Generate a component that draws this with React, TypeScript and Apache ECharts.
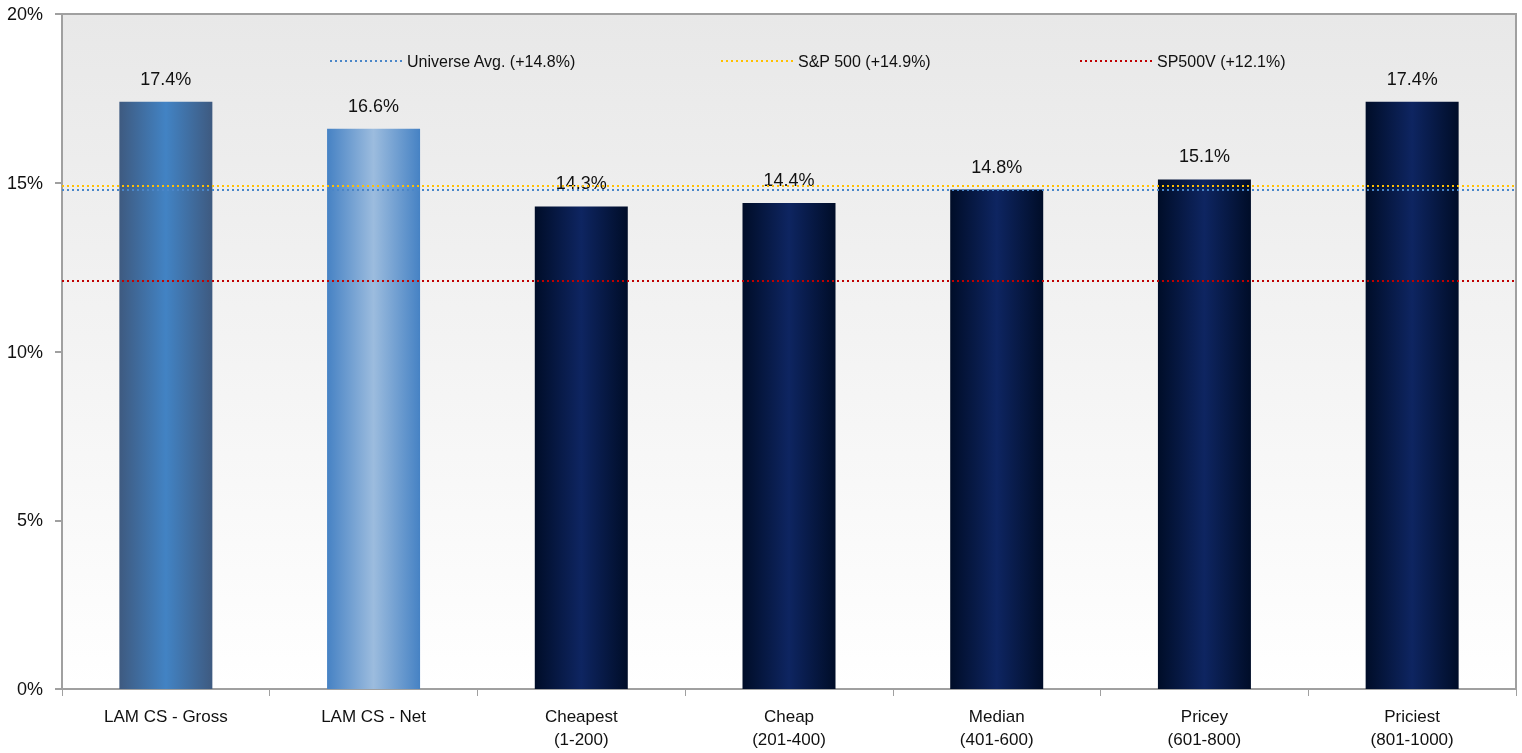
import React, { useEffect, useRef } from "react";
import * as echarts from "echarts";

const categories = [
  "LAM CS - Gross",
  "LAM CS - Net",
  "Cheapest\n(1-200)",
  "Cheap\n(201-400)",
  "Median\n(401-600)",
  "Pricey\n(601-800)",
  "Priciest\n(801-1000)",
];
const values = [17.4, 16.6, 14.3, 14.4, 14.8, 15.1, 17.4];
const refNames = ["Universe Avg. (+14.8%)", "S&P 500 (+14.9%)", "SP500V (+12.1%)"];
const refValues = [14.8, 14.9, 12.1];
const refColors = ["#4a86c8", "#ffc000", "#c00000"];
const yTicks = [0, 5, 10, 15, 20];

const FONT = "'Liberation Sans Narrow', 'Arial Narrow', 'Liberation Sans', Arial, sans-serif";

const grad = (edge: string, mid: string) =>
  new echarts.graphic.LinearGradient(0, 0, 1, 0, [
    { offset: 0, color: edge },
    { offset: 0.5, color: mid },
    { offset: 1, color: edge },
  ]);

export default function App() {
  const ref = useRef<HTMLDivElement>(null);
  useEffect(() => {
    if (!ref.current) return;
    const chart = echarts.init(ref.current, undefined, { renderer: "svg" });
    const barColors = [
      grad("#3e5a80", "#4283c4"),
      grad("#4682c4", "#9cbcde"),
      grad("#000d28", "#0e2561"),
      grad("#000d28", "#0e2561"),
      grad("#000d28", "#0e2561"),
      grad("#000d28", "#0e2561"),
      grad("#000d28", "#0e2561"),
    ];
    const legendLefts = [324, 715, 1074];
    chart.setOption({
      animation: false,
      textStyle: { fontFamily: FONT },
      grid: {
        left: 62,
        right: 6,
        top: 14,
        bottom: 64,
        show: true,
        borderColor: "#a0a0a0",
        borderWidth: 2,
        backgroundColor: new echarts.graphic.LinearGradient(0, 0, 0, 1, [
          { offset: 0, color: "#e8e8e8" },
          { offset: 1, color: "#ffffff" },
        ]),
      },
      legend: refNames.map((n, i) => ({
        data: [n],
        left: legendLefts[i],
        top: 48,
        itemWidth: 72,
        itemHeight: 4,
        itemGap: 6,
        itemStyle: { opacity: 0 },
        textStyle: { fontFamily: FONT, fontSize: 16, color: "#111" },
        selectedMode: false,
      })),
      xAxis: {
        type: "category",
        data: categories,
        axisLine: { lineStyle: { color: "#a0a0a0", width: 2 } },
        axisTick: { show: true, length: 7, lineStyle: { color: "#a0a0a0" } },
        axisLabel: {
          fontFamily: FONT,
          fontSize: 17,
          color: "#111",
          lineHeight: 23,
          margin: 16,
        },
      },
      yAxis: {
        type: "value",
        min: 0,
        max: 20,
        interval: 5,
        splitLine: { show: false },
        axisLine: { show: true, lineStyle: { color: "#a0a0a0", width: 2 } },
        axisTick: { show: true, length: 7, lineStyle: { color: "#a0a0a0", width: 2 } },
        axisLabel: {
          fontFamily: FONT,
          fontSize: 18,
          color: "#111",
          margin: 19,
          formatter: (v: number) => (yTicks.includes(v) ? v + "%" : ""),
        },
      },
      series: [
        {
          type: "bar",
          barWidth: 93,
          data: values.map((v, i) => ({ value: v, itemStyle: { color: barColors[i] } })),
          label: {
            show: true,
            position: "top",
            distance: 14,
            fontFamily: FONT,
            fontSize: 18,
            color: "#111",
            formatter: (p: any) => p.value.toFixed(1) + "%",
          },
          z: 2,
        },
        ...refNames.map((n, i) => ({
          type: "line",
          name: n,
          data: [],
          symbol: "none",
          lineStyle: { color: refColors[i], type: [2, 3], width: 2 },
          itemStyle: { color: refColors[i] },
          markLine: {
            silent: true,
            symbol: "none",
            label: { show: false },
            lineStyle: { color: refColors[i], type: [2, 3], width: 2 },
            data: [{ yAxis: refValues[i] }],
          },
          z: 3,
        })),
      ],
    });
    return () => chart.dispose();
  }, []);
  return (
    <div
      ref={ref}
      style={{ position: "fixed", left: 0, top: 0, width: 1522, height: 753 }}
    />
  );
}
